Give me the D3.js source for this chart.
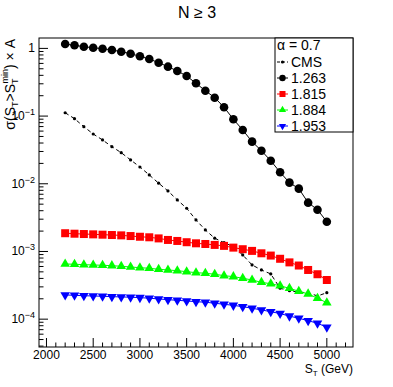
<!DOCTYPE html>
<html>
<head>
<meta charset="utf-8">
<script src="https://cdn.jsdelivr.net/npm/d3@7"></script>
<style>
  body { margin: 0; background: #fff; }
  svg text { font-family: "Liberation Sans", Arial, sans-serif; }
</style>
</head>
<body>
<div id="chart"></div>
<script>
// S_T threshold values (GeV)
var stValues = [2200, 2300, 2400, 2500, 2600, 2700, 2800, 2900, 3000, 3100,
    3200, 3300, 3400, 3500, 3600, 3700, 3800, 3900, 4000, 4100,
    4200, 4300, 4400, 4500, 4600, 4700, 4800, 4900, 5000];

var cms = [0.112, 0.0916, 0.0697, 0.0544, 0.0444, 0.0353, 0.0288, 0.0225, 0.0177, 0.0135,
    0.0102, 0.00783, 0.00577, 0.00435, 0.00292, 0.00208, 0.00157, 0.00135, 0.00118, 0.000888,
    0.000632, 0.000533, 0.000466, 0.000286, 0.000264, 0.000250, 0.000246, 0.000220, 0.000246];

var m1263 = [1.16, 1.11, 1.06, 1.02, 0.99, 0.947, 0.894, 0.835, 0.764, 0.697,
    0.615, 0.537, 0.464, 0.391, 0.305, 0.237, 0.187, 0.135, 0.0897, 0.0623,
    0.0419, 0.0308, 0.0219, 0.0148, 0.0104, 0.00847, 0.00526, 0.00414, 0.00275];

var m1815 = [1.86e-3, 1.83e-3, 1.81e-3, 1.79e-3, 1.77e-3, 1.75e-3, 1.73e-3, 1.69e-3, 1.65e-3, 1.62e-3,
    1.56e-3, 1.48e-3, 1.43e-3, 1.37e-3, 1.32e-3, 1.29e-3, 1.25e-3, 1.21e-3, 1.14e-3, 1.08e-3,
    1.02e-3, 9.4e-4, 8.7e-4, 7.8e-4, 6.9e-4, 6.2e-4, 5.33e-4, 4.61e-4, 3.79e-4];

var m1884 = [6.54e-4, 6.47e-4, 6.38e-4, 6.32e-4, 6.25e-4, 6.17e-4, 6.04e-4, 5.90e-4, 5.76e-4, 5.65e-4,
    5.46e-4, 5.33e-4, 5.20e-4, 5.03e-4, 4.86e-4, 4.77e-4, 4.61e-4, 4.39e-4, 4.25e-4, 4.02e-4,
    3.79e-4, 3.50e-4, 3.34e-4, 3.11e-4, 2.86e-4, 2.58e-4, 2.36e-4, 2.04e-4, 1.75e-4];

var m1953 = [2.28e-4, 2.25e-4, 2.22e-4, 2.20e-4, 2.18e-4, 2.15e-4, 2.13e-4, 2.11e-4, 2.08e-4, 2.04e-4,
    1.99e-4, 1.94e-4, 1.90e-4, 1.86e-4, 1.81e-4, 1.78e-4, 1.72e-4, 1.66e-4, 1.60e-4, 1.53e-4,
    1.45e-4, 1.37e-4, 1.29e-4, 1.21e-4, 1.11e-4, 1.03e-4, 9.5e-5, 8.7e-5, 7.6e-5];

var xTicks = [2000, 2500, 3000, 3500, 4000, 4500, 5000];
var yExponents = [0, -1, -2, -3, -4];

var seriesList = [
    { name: "CMS", values: cms, color: "#000", marker: "dot", dashed: true },
    { name: "1.263", values: m1263, color: "#000", marker: "circle" },
    { name: "1.815", values: m1815, color: "#ff0000", marker: "square" },
    { name: "1.884", values: m1884, color: "#00ff00", marker: "triangle" },
    { name: "1.953", values: m1953, color: "#0000ff", marker: "triangleDown" }
];

var width = 393, height = 387;
var frame = { left: 39, right: 353, top: 38, bottom: 347 };

var svg = d3.select("#chart").append("svg")
    .attr("width", width)
    .attr("height", height);

var x = d3.scaleLinear().domain([1920, 5280]).range([frame.left, frame.right]);
var y = d3.scaleLog().domain([3.88e-5, 1.424]).range([frame.bottom, frame.top]);

// marker drawing helper
function drawMarker(g, type, cx, cy, color, s) {
    if (type === "circle") {
        g.append("circle").attr("cx", cx).attr("cy", cy).attr("r", 4.3 * s).attr("fill", color);
    } else if (type === "dot") {
        g.append("circle").attr("cx", cx).attr("cy", cy).attr("r", 1.6 * s).attr("fill", color);
    } else if (type === "square") {
        g.append("rect").attr("x", cx - 4 * s).attr("y", cy - 4 * s)
            .attr("width", 8 * s).attr("height", 8 * s).attr("fill", color);
    } else {
        var sym = d3.symbol().type(d3.symbolTriangle).size(40 * s * s);
        g.append("path").attr("d", sym)
            .attr("transform", "translate(" + cx + "," + cy + ")" + (type === "triangleDown" ? " rotate(180)" : ""))
            .attr("fill", color);
    }
}

// clip to frame
svg.append("clipPath").attr("id", "clip").append("rect")
    .attr("x", frame.left).attr("y", frame.top)
    .attr("width", frame.right - frame.left).attr("height", frame.bottom - frame.top);

var plot = svg.append("g").attr("clip-path", "url(#clip)");

var line = d3.line()
    .x(function(d, i) { return x(stValues[i]); })
    .y(function(d) { return y(d); });

seriesList.forEach(function(s) {
    plot.append("path")
        .datum(s.values)
        .attr("d", line)
        .attr("fill", "none")
        .attr("stroke", s.color)
        .attr("stroke-width", 1)
        .attr("stroke-dasharray", s.dashed ? "4,3" : null);
    var g = plot.append("g");
    s.values.forEach(function(v, i) {
        drawMarker(g, s.marker, x(stValues[i]), y(v), s.color, 1);
    });
});

// frame
svg.append("rect")
    .attr("x", frame.left).attr("y", frame.top)
    .attr("width", frame.right - frame.left).attr("height", frame.bottom - frame.top)
    .attr("fill", "none").attr("stroke", "#000").attr("stroke-width", 1);

// x ticks (inward)
var axes = svg.append("g").attr("stroke", "#000").attr("stroke-width", 1);
d3.range(1900, 5300, 100).forEach(function(t) {
    if (t < 1920 || t > 5280) return;
    var major = t % 500 === 0;
    axes.append("line")
        .attr("x1", x(t)).attr("x2", x(t))
        .attr("y1", frame.bottom).attr("y2", frame.bottom - (major ? 9 : 4.5));
});
svg.append("g").selectAll("text").data(xTicks).enter().append("text")
    .attr("x", function(d) { return x(d); })
    .attr("y", 359)
    .attr("text-anchor", "middle")
    .attr("font-size", 12)
    .text(function(d) { return d; });

// y ticks (inward, log)
d3.range(-5, 1).forEach(function(e) {
    for (var k = 1; k < 10; k++) {
        var v = k * Math.pow(10, e);
        if (v < y.domain()[0] || v > y.domain()[1]) continue;
        axes.append("line")
            .attr("x1", frame.left).attr("x2", frame.left + (k === 1 ? 9 : 4.5))
            .attr("y1", y(v)).attr("y2", y(v));
    }
});
var yLab = svg.append("g").attr("font-size", 12).attr("text-anchor", "end");
yExponents.forEach(function(e) {
    var t = yLab.append("text").attr("x", 35).attr("y", y(Math.pow(10, e)) + 4);
    if (e === 0) {
        t.text("1");
    } else {
        t.append("tspan").text("10");
        t.append("tspan").attr("dy", -5).attr("font-size", 9).text("\u2212" + (-e));
    }
});

// axis titles
var xt = svg.append("text").attr("x", 353).attr("y", 373).attr("text-anchor", "end").attr("font-size", 12);
xt.append("tspan").text("S");
xt.append("tspan").attr("dy", 3).attr("font-size", 8).text("T");
xt.append("tspan").attr("dy", -3).text(" (GeV)");

var yt = svg.append("text")
    .attr("transform", "translate(15,39) rotate(-90)")
    .attr("text-anchor", "end")
    .attr("font-size", 14);
yt.append("tspan").text("\u03c3(S");
yt.append("tspan").attr("dy", 3).attr("font-size", 9).text("T");
yt.append("tspan").attr("dy", -3).text(">S");
yt.append("tspan").attr("dy", 3).attr("font-size", 9).text("T");
yt.append("tspan").attr("dx", -5).attr("dy", -10).attr("font-size", 9).text("min");
yt.append("tspan").attr("dy", 7).text(") \u00d7 A");

// title
svg.append("text").attr("x", 197).attr("y", 18)
    .attr("text-anchor", "middle").attr("font-size", 16)
    .text("N \u2265 3");

// legend
var legend = svg.append("g");
legend.append("rect")
    .attr("x", 275).attr("y", 38).attr("width", 78).attr("height", 94)
    .attr("fill", "#fff").attr("stroke", "#000").attr("stroke-width", 1);
legend.append("text").attr("x", 277).attr("y", 50).attr("font-size", 14).text("\u03b1 = 0.7");
seriesList.forEach(function(s, i) {
    var cy = 62 + i * 16;
    legend.append("line")
        .attr("x1", 277).attr("x2", 288).attr("y1", cy).attr("y2", cy)
        .attr("stroke", s.color).attr("stroke-dasharray", s.dashed ? "3,2" : null);
    drawMarker(legend, s.marker, 282.5, cy, s.color, s.marker === "dot" ? 1 : 0.75);
    legend.append("text").attr("x", 291).attr("y", cy + 5).attr("font-size", 14).text(s.name);
});
</script>
</body>
</html>
